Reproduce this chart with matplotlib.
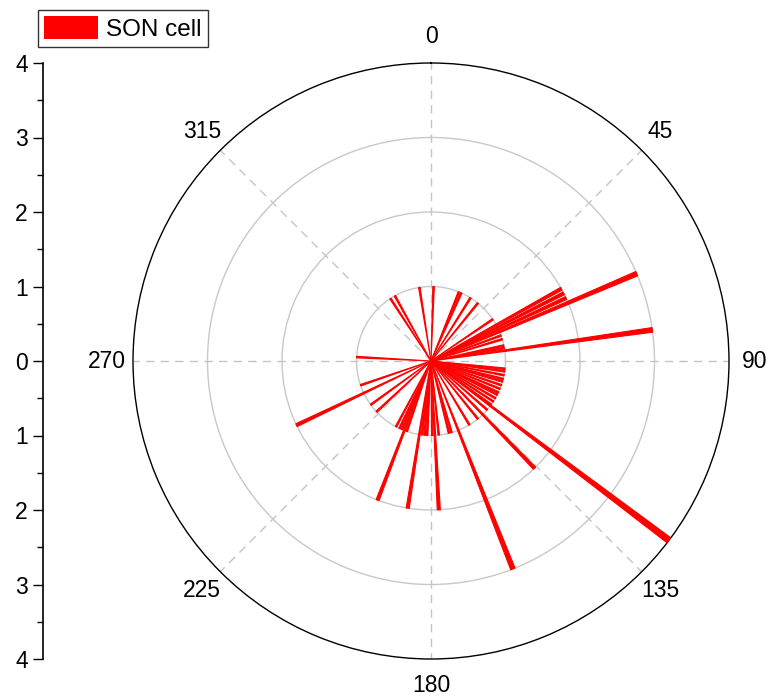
import numpy as np
import matplotlib as mpl
mpl.use('Agg')
import matplotlib.pyplot as plt
from matplotlib.patches import Patch

plt.rcParams['font.family'] = ['Liberation Sans', 'DejaVu Sans']

# bar direction (degrees, clockwise from north) and counts
angles_deg = [2, 22, 24, 32, 39, 56, 61, 63, 65, 67, 70, 73, 78, 80, 82,
              96, 98, 101, 104, 106, 109, 112, 115, 117, 120, 123, 127, 126,
              131, 136, 141, 149, 158.5, 164, 166, 174, 177, 179, 183, 185,
              187, 189, 199, 201, 203, 205, 208, 227, 234, 244.5, 251, 273,
              327, 331, 351]
counts = [1, 1, 1, 1, 1, 1, 2, 2, 2, 3, 1, 1, 1, 1, 3,
          1, 1, 1, 1, 1, 1, 1, 1, 1, 1, 1, 4, 1,
          1, 2, 1, 1, 3, 1, 1, 1, 2, 1, 1, 1,
          1, 2, 1, 2, 1, 1, 1, 1, 1, 2, 1, 1,
          1, 1, 1]
bar_width_deg = 1.2

theta_labels = ['0', '45', '90', '135', '180', '225', '270', '315']
theta_label_pos = [0, 45, 90, 135, 180, 225, 270, 315]
r_ticks = [-4, -3, -2, -1, 0, 1, 2, 3, 4]

fig = plt.figure(figsize=(7.69, 6.96), dpi=100)

ax = fig.add_axes([133 / 769, 37 / 696, 596 / 769, 596 / 696], projection='polar')
ax.set_theta_zero_location('N')
ax.set_theta_direction(-1)
ax.set_ylim(0, 4)
ax.set_rticks([1, 2, 3])
ax.set_yticklabels([])
ax.set_xticks(np.deg2rad(theta_label_pos))
ax.set_xticklabels([])
ax.yaxis.grid(True, color='#c8c8c8', linewidth=1.0, linestyle='-')
ax.xaxis.grid(True, color='#c4c4c4', linewidth=1.0, linestyle=(0, (6, 4.5)))
ax.tick_params(axis='x', direction='in', length=10, width=1, colors='black')
ax.spines['polar'].set_color('black')
ax.spines['polar'].set_linewidth(1.0)
ax.set_axisbelow(True)

ax.bar(np.deg2rad(angles_deg), counts, width=np.deg2rad(bar_width_deg),
       color='#ff0000', edgecolor='#ff0000', linewidth=0.8, zorder=3)

for lab, pos in zip(theta_labels, theta_label_pos):
    ax.text(np.deg2rad(pos), 4.35, lab, ha='center', va='center',
            fontsize=16.5, clip_on=False)

# left radial scale
lax = fig.add_axes([43 / 769, 37 / 696, 0.002, 596 / 696])
lax.set_facecolor('none')
for s in ['top', 'right', 'bottom']:
    lax.spines[s].set_visible(False)
lax.spines['left'].set_linewidth(1.2)
lax.set_ylim(-4, 4)
lax.set_xticks([])
lax.set_yticks(r_ticks)
lax.set_yticklabels([str(abs(v)) for v in r_ticks[::-1]])
lax.set_yticks(np.arange(-3.5, 4, 1), minor=True)
lax.tick_params(axis='y', which='major', length=7, width=1, pad=4, labelsize=16.5)
lax.tick_params(axis='y', which='minor', length=4, width=1)

handles = [Patch(facecolor='#ff0000', edgecolor='none', label='SON cell')]
fig.legend(handles=handles, loc='upper left', bbox_to_anchor=(38 / 769, 1 - 10 / 696),
           borderaxespad=0, fontsize=17.5, frameon=True, fancybox=False,
           edgecolor='#333333', framealpha=1, borderpad=0.25,
           handlelength=2.2, handleheight=1.05, handletextpad=0.35)

plt.savefig('out.png', dpi=100)
plt.close()
